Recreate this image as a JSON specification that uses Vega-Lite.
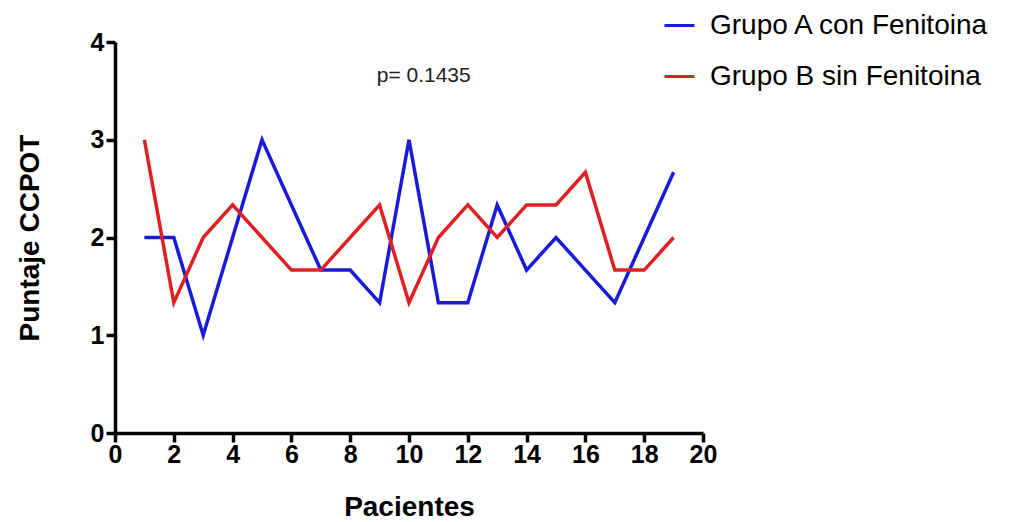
{
  "$schema": "https://vega.github.io/schema/vega-lite/v6.json",
  "autosize": "none",
  "width": 588,
  "height": 391,
  "padding": {"left": 115, "top": 42, "right": 325, "bottom": 89},
  "background": "white",
  "config": {
    "view": {"stroke": null},
    "font": "Liberation Sans"
  },
  "datasets": {
    "series": [
      {"paciente": 1, "puntaje": 2, "grupo": "Grupo A con Fenitoina"},
      {"paciente": 2, "puntaje": 2, "grupo": "Grupo A con Fenitoina"},
      {"paciente": 3, "puntaje": 1, "grupo": "Grupo A con Fenitoina"},
      {"paciente": 4, "puntaje": 2, "grupo": "Grupo A con Fenitoina"},
      {"paciente": 5, "puntaje": 3, "grupo": "Grupo A con Fenitoina"},
      {"paciente": 6, "puntaje": 2.333, "grupo": "Grupo A con Fenitoina"},
      {"paciente": 7, "puntaje": 1.667, "grupo": "Grupo A con Fenitoina"},
      {"paciente": 8, "puntaje": 1.667, "grupo": "Grupo A con Fenitoina"},
      {"paciente": 9, "puntaje": 1.333, "grupo": "Grupo A con Fenitoina"},
      {"paciente": 10, "puntaje": 3, "grupo": "Grupo A con Fenitoina"},
      {"paciente": 11, "puntaje": 1.333, "grupo": "Grupo A con Fenitoina"},
      {"paciente": 12, "puntaje": 1.333, "grupo": "Grupo A con Fenitoina"},
      {"paciente": 13, "puntaje": 2.333, "grupo": "Grupo A con Fenitoina"},
      {"paciente": 14, "puntaje": 1.667, "grupo": "Grupo A con Fenitoina"},
      {"paciente": 15, "puntaje": 2, "grupo": "Grupo A con Fenitoina"},
      {"paciente": 16, "puntaje": 1.667, "grupo": "Grupo A con Fenitoina"},
      {"paciente": 17, "puntaje": 1.333, "grupo": "Grupo A con Fenitoina"},
      {"paciente": 18, "puntaje": 2, "grupo": "Grupo A con Fenitoina"},
      {"paciente": 19, "puntaje": 2.667, "grupo": "Grupo A con Fenitoina"},
      {"paciente": 1, "puntaje": 3, "grupo": "Grupo B sin Fenitoina"},
      {"paciente": 2, "puntaje": 1.333, "grupo": "Grupo B sin Fenitoina"},
      {"paciente": 3, "puntaje": 2, "grupo": "Grupo B sin Fenitoina"},
      {"paciente": 4, "puntaje": 2.333, "grupo": "Grupo B sin Fenitoina"},
      {"paciente": 5, "puntaje": 2, "grupo": "Grupo B sin Fenitoina"},
      {"paciente": 6, "puntaje": 1.667, "grupo": "Grupo B sin Fenitoina"},
      {"paciente": 7, "puntaje": 1.667, "grupo": "Grupo B sin Fenitoina"},
      {"paciente": 8, "puntaje": 2, "grupo": "Grupo B sin Fenitoina"},
      {"paciente": 9, "puntaje": 2.333, "grupo": "Grupo B sin Fenitoina"},
      {"paciente": 10, "puntaje": 1.333, "grupo": "Grupo B sin Fenitoina"},
      {"paciente": 11, "puntaje": 2, "grupo": "Grupo B sin Fenitoina"},
      {"paciente": 12, "puntaje": 2.333, "grupo": "Grupo B sin Fenitoina"},
      {"paciente": 13, "puntaje": 2, "grupo": "Grupo B sin Fenitoina"},
      {"paciente": 14, "puntaje": 2.333, "grupo": "Grupo B sin Fenitoina"},
      {"paciente": 15, "puntaje": 2.333, "grupo": "Grupo B sin Fenitoina"},
      {"paciente": 16, "puntaje": 2.667, "grupo": "Grupo B sin Fenitoina"},
      {"paciente": 17, "puntaje": 1.667, "grupo": "Grupo B sin Fenitoina"},
      {"paciente": 18, "puntaje": 1.667, "grupo": "Grupo B sin Fenitoina"},
      {"paciente": 19, "puntaje": 2, "grupo": "Grupo B sin Fenitoina"}
    ],
    "note": [
      {"paciente": 10.5, "puntaje": 3.65, "label": "p= 0.1435"}
    ]
  },
  "layer": [
    {
      "data": {"name": "series"},
      "mark": {"type": "line", "strokeWidth": 3.5, "clip": false},
      "encoding": {
        "x": {
          "field": "paciente", "type": "quantitative",
          "scale": {"domain": [0, 20], "nice": false, "zero": false},
          "axis": {
            "title": "Pacientes", "values": [0, 2, 4, 6, 8, 10, 12, 14, 16, 18, 20], "format": "d",
            "grid": false, "domainColor": "black", "domainWidth": 3.5,
            "tickColor": "black", "tickWidth": 3.5, "tickSize": 9,
            "labelFont": "Liberation Sans", "labelFontWeight": "bold", "labelFontSize": 25,
            "labelColor": "black", "labelPadding": 0, "labelFlush": false,
            "titleFont": "Liberation Sans", "titleFontWeight": "bold", "titleFontSize": 28,
            "titleColor": "black", "titlePadding": 26
          }
        },
        "y": {
          "field": "puntaje", "type": "quantitative",
          "scale": {"domain": [0, 4], "nice": false},
          "axis": {
            "title": "Puntaje CCPOT", "values": [0, 1, 2, 3, 4], "format": "d",
            "grid": false, "domainColor": "black", "domainWidth": 3.5,
            "tickColor": "black", "tickWidth": 3.5, "tickSize": 9,
            "labelFont": "Liberation Sans", "labelFontWeight": "bold", "labelFontSize": 25,
            "labelColor": "black", "labelPadding": 2, "labelFlush": false,
            "titleFont": "Liberation Sans", "titleFontWeight": "bold", "titleFontSize": 28,
            "titleColor": "black", "titlePadding": 46
          }
        },
        "color": {
          "field": "grupo", "type": "nominal",
          "scale": {"domain": ["Grupo A con Fenitoina", "Grupo B sin Fenitoina"], "range": ["#1a1ad8", "#e01f22"]},
          "legend": {
            "title": null, "orient": "none", "legendX": 548, "legendY": -33,
            "symbolType": "stroke", "symbolStrokeWidth": 3, "symbolSize": 900,
            "labelFont": "Liberation Sans", "labelFontSize": 28, "labelColor": "black",
            "labelLimit": 400, "rowPadding": 20, "labelOffset": 14
          }
        }
      }
    },
    {
      "data": {"name": "note"},
      "mark": {"type": "text", "fontSize": 21, "font": "Liberation Sans", "color": "#222", "align": "center", "baseline": "middle"},
      "encoding": {
        "x": {"field": "paciente", "type": "quantitative"},
        "y": {"field": "puntaje", "type": "quantitative"},
        "text": {"field": "label"}
      }
    }
  ]
}
